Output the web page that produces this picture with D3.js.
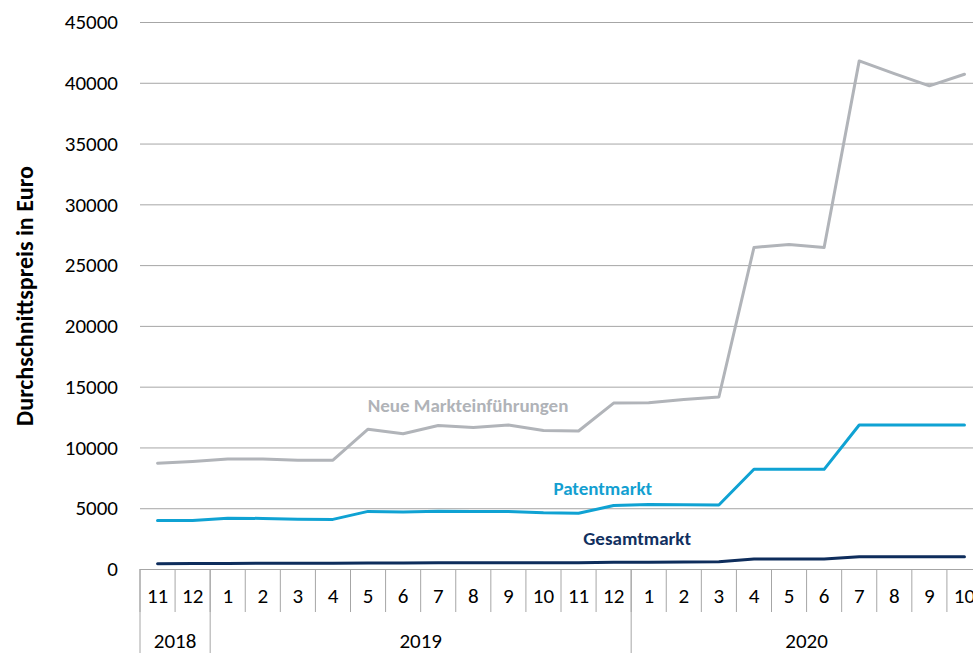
<!DOCTYPE html>
<meta charset="utf-8">
<script src="https://d3js.org/d3.v7.min.js"></script>
<div id="my_dataviz"></div>
<style>
body { margin: 0; background: #fff; }
svg text { font-family: Calibri, Carlito, "Open Sans", sans-serif; fill: #000; }
</style>
<script>
var months = ["11","12","1","2","3","4","5","6","7","8","9","10","11","12","1","2","3","4","5","6","7","8","9","10"];
var years = ["2018", "2019", "2020"];
var yearSpans = [2, 12, 10];
var yTicks = [0, 5000, 10000, 15000, 20000, 25000, 30000, 35000, 40000, 45000];

var neue = [8700, 8850, 9050, 9050, 8950, 8950, 11500, 11130, 11800, 11650, 11850, 11400, 11350, 13650,
            13680, 13950, 14150, 26450, 26700, 26450, 41800, 40750, 39750, 40700];
var patent = [3980, 4000, 4180, 4160, 4100, 4080, 4740, 4690, 4760, 4740, 4730, 4620, 4580, 5220,
              5300, 5280, 5260, 8200, 8200, 8200, 11850, 11850, 11850, 11850];
var gesamt = [440, 450, 460, 470, 470, 480, 500, 500, 510, 510, 510, 520, 520, 550,
              560, 580, 600, 820, 820, 820, 1010, 1010, 1010, 1010];

var series = [
  {name: "Neue Markteinführungen", values: neue, color: "#b1b4b9", labelColor: "#b0b3b8", lx: 9.35, ly: 13430},
  {name: "Patentmarkt", values: patent, color: "#0fa2d3", labelColor: "#139fd1", lx: 13.19, ly: 6600},
  {name: "Gesamtmarkt", values: gesamt, color: "#0e2d5c", labelColor: "#11305f", lx: 14.17, ly: 2480}
];

var width = 973, height = 653;
var plotLeft = 140, plotRight = 982, plotTop = 22, plotBottom = 569;

var svg = d3.select("#my_dataviz")
  .append("svg")
    .attr("width", width)
    .attr("height", height);

var x = d3.scaleBand()
  .domain(d3.range(months.length))
  .range([plotLeft, plotRight])
  .padding(0);
var xi = d3.scaleLinear()
  .domain([0, months.length])
  .range([plotLeft, plotRight]);
var y = d3.scaleLinear()
  .domain([0, 45000])
  .range([plotBottom, plotTop]);

// gridlines + y labels
var yAxis = svg.append("g")
  .attr("transform", "translate(" + plotLeft + ",0)")
  .call(d3.axisLeft(y).tickValues(yTicks).tickSize(-(plotRight - plotLeft)).tickPadding(22).tickFormat(d3.format("d")));
yAxis.select(".domain").remove();
yAxis.selectAll(".tick line").attr("stroke", "#a6a6a6").attr("stroke-width", 1);
yAxis.selectAll(".tick text").style("font-size", "21px");

// month labels
var xAxis = svg.append("g")
  .attr("transform", "translate(0," + plotBottom + ")")
  .call(d3.axisBottom(x).tickSize(0).tickPadding(19).tickFormat(function(i) { return months[i]; }));
xAxis.select(".domain").remove();
xAxis.selectAll(".tick text").style("font-size", "21px");

// category separators
svg.append("g")
  .selectAll("line")
  .data(d3.range(months.length + 1))
  .enter()
  .append("line")
    .attr("x1", function(i) { return xi(i); })
    .attr("x2", function(i) { return xi(i); })
    .attr("y1", plotBottom)
    .attr("y2", plotBottom + 43)
    .attr("stroke", "#a6a6a6");

var yearStart = [0];
yearSpans.forEach(function(n, i) { yearStart.push(yearStart[i] + n); });

svg.append("g")
  .selectAll("line")
  .data(yearStart)
  .enter()
  .append("line")
    .attr("x1", function(i) { return xi(i); })
    .attr("x2", function(i) { return xi(i); })
    .attr("y1", plotBottom)
    .attr("y2", height)
    .attr("stroke", "#a6a6a6");

svg.append("g")
  .selectAll("text")
  .data(years)
  .enter()
  .append("text")
    .attr("x", function(d, i) { return xi(yearStart[i] + yearSpans[i] / 2); })
    .attr("y", 648)
    .attr("text-anchor", "middle")
    .style("font-size", "21px")
    .text(function(d) { return d; });

// y title
svg.append("text")
  .attr("transform", "translate(24," + 296 + ") rotate(-90)")
  .attr("text-anchor", "middle")
  .attr("dominant-baseline", "central")
  .style("font-size", "24px")
  .style("font-weight", "bold")
  .text("Durchschnittspreis in Euro");

var line = d3.line()
  .x(function(d, i) { return x(i) + x.bandwidth() / 2; })
  .y(function(d) { return y(d); });

svg.append("g")
  .selectAll("path")
  .data(series)
  .enter()
  .append("path")
    .attr("d", function(d) { return line(d.values); })
    .attr("fill", "none")
    .attr("stroke", function(d) { return d.color; })
    .attr("stroke-width", 3)
    .attr("stroke-linejoin", "round")
    .attr("stroke-linecap", "round");

svg.append("g")
  .selectAll("text")
  .data(series)
  .enter()
  .append("text")
    .attr("x", function(d) { return xi(d.lx); })
    .attr("y", function(d) { return y(d.ly); })
    .attr("text-anchor", "middle")
    .attr("dominant-baseline", "central")
    .style("font-size", "19px")
    .style("font-weight", "bold")
    .style("fill", function(d) { return d.labelColor; })
    .text(function(d) { return d.name; });
</script>
